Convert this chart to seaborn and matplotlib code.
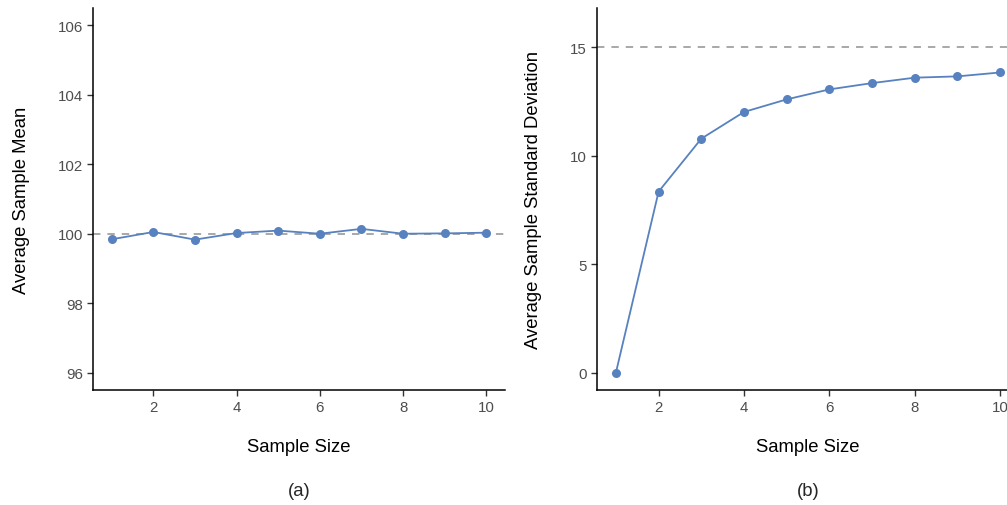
import matplotlib

matplotlib.use("Agg")
import matplotlib.pyplot as plt
import pandas as pd
import seaborn as sns

# values
sample_size = [1, 2, 3, 4, 5, 6, 7, 8, 9, 10]
avg_mean = [99.84, 100.05, 99.83, 100.02, 100.09, 100.0, 100.14, 100.0, 100.01, 100.03]
avg_sd = [0.0, 8.34, 10.78, 12.01, 12.59, 13.05, 13.34, 13.59, 13.65, 13.83]
true_mean = 100
true_sd = 15

x_ticks = [2, 4, 6, 8, 10]
mean_ticks = [96, 98, 100, 102, 104, 106]
sd_ticks = [0, 5, 10, 15]

BLUE = "#5782bf"
GREY = "#a8a8a8"

sns.set_theme(style="ticks")
plt.rcParams["font.family"] = ["Liberation Sans", "DejaVu Sans"]

df = pd.DataFrame({"n": sample_size, "mean": avg_mean, "sd": avg_sd})

W, H = 1007, 506
fig = plt.figure(figsize=(W / 100, H / 100), dpi=100)

ax_a = fig.add_axes([93 / W, 1 - 391 / H, 412 / W, 382 / H])
ax_b = fig.add_axes([596.7 / W, 1 - 391 / H, 422.7 / W, 382 / H])


def style_axis(ax, ycol, ref, yticks, ylim, ylabel, ylabel_x, tag, width_px):
    ax.axhline(ref, color=GREY, lw=1.4, dashes=(3.8, 3.6), zorder=1)
    sns.lineplot(data=df, x="n", y=ycol, ax=ax, color=BLUE, lw=1.3,
                 marker="o", markersize=6.5, markeredgewidth=0, zorder=3)
    ax.set_xlim(0.55, 10.45)
    ax.set_ylim(*ylim)
    ax.set_xticks(x_ticks)
    ax.set_yticks(yticks)
    ax.tick_params(axis="both", labelsize=10.8, labelcolor="#4d4d4d",
                   color="#333333", length=4, width=1, pad=3)
    for side in ["top", "right"]:
        ax.spines[side].set_visible(False)
    for side in ["left", "bottom"]:
        ax.spines[side].set_color("black")
        ax.spines[side].set_linewidth(1.1)
    ax.set_xlabel("Sample Size", fontsize=13.3, color="black", va="center")
    ax.set_ylabel(ylabel, fontsize=13.3, color="black", va="center")
    ax.xaxis.set_label_coords(0.5, -57 / 382)
    ax.yaxis.set_label_coords(ylabel_x, 0.5)
    x0 = ax.get_position().x0
    fig.text(x0 + width_px / W / 2, 1 - 492 / H, tag,
             ha="center", va="center", fontsize=13.3)


style_axis(ax_a, "mean", true_mean, mean_ticks, (95.5, 106.5),
           "Average Sample Mean", (22 - 93) / 412, "(a)", 412)
style_axis(ax_b, "sd", true_sd, sd_ticks, (-0.8, 16.8),
           "Average Sample Standard Deviation", (534 - 596.7) / 422.7, "(b)", 422.7)

fig.savefig("out.png", dpi=100)
